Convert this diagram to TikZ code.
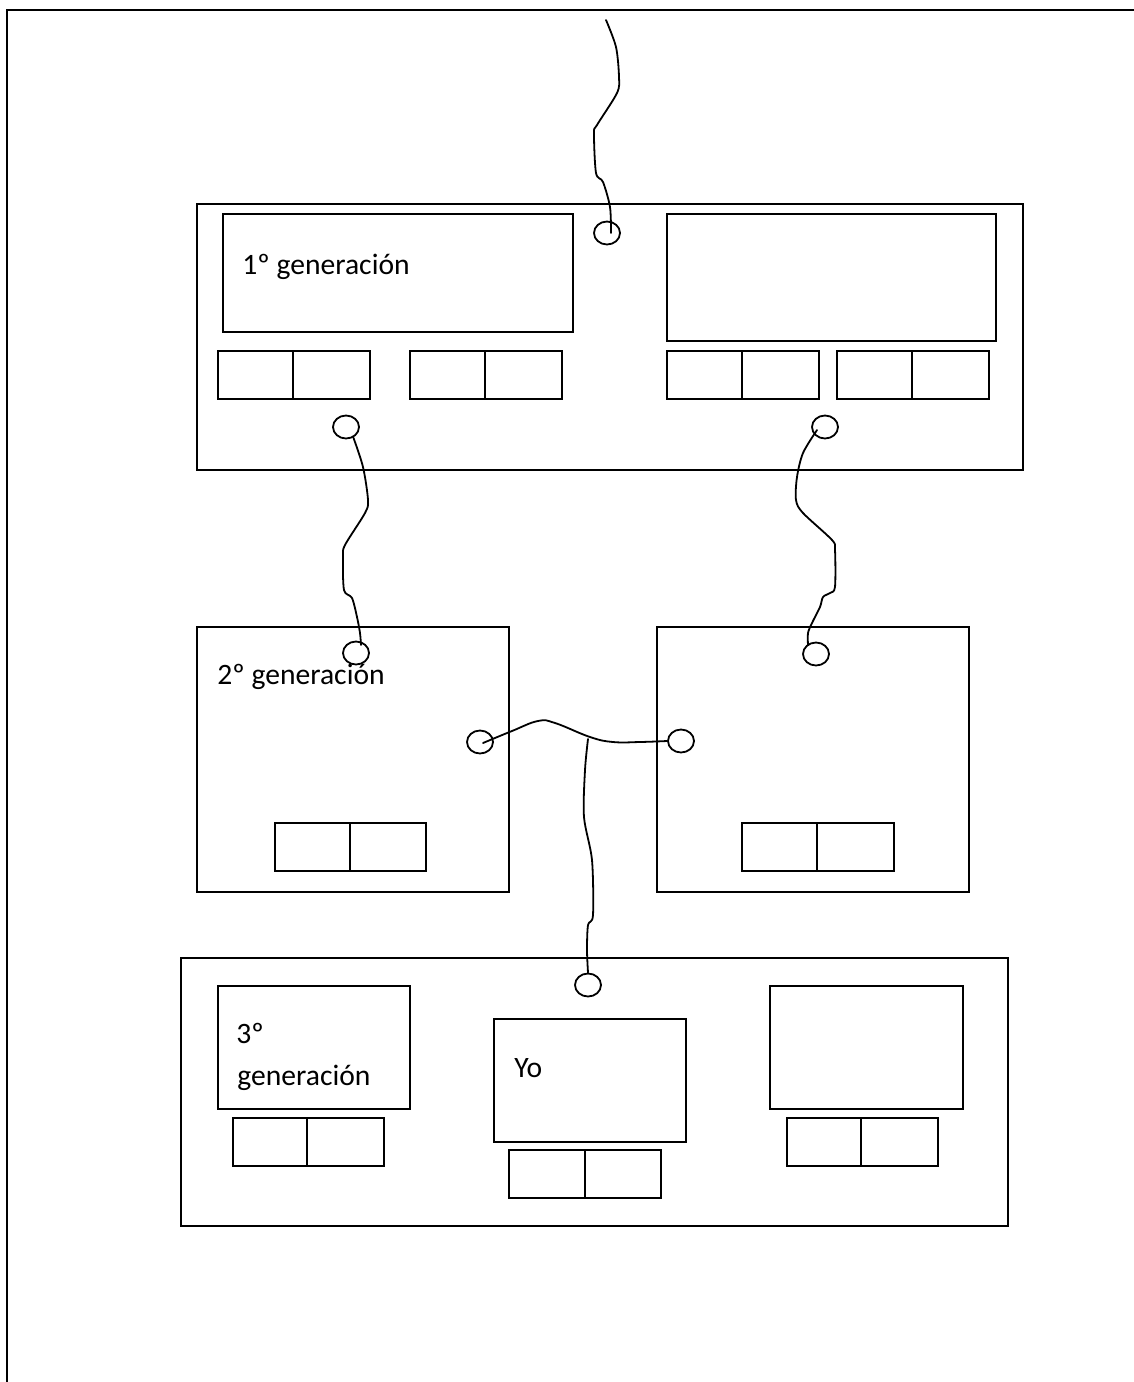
\documentclass[tikz,border=0pt]{standalone}
\usepackage{fontspec}
\setmainfont{Carlito}
\usetikzlibrary{fit,shapes.geometric}
\newcommand\lblfont{\fontsize{14.8}{20}\selectfont}
\tikzset{
  frame/.style={draw, line width=1pt, inner sep=0pt},
  port/.style={draw, ellipse, line width=0.9pt, minimum width=13pt, minimum height=11.5pt, inner sep=0pt},
  wire/.style={line width=0.9pt, line cap=round, line join=round},
  lbl/.style={anchor=base west, inner sep=0pt, font=\lblfont}
}
% rectangle from (x1,y1) to (x2,y2)
\newcommand\myrect[5]{\node[frame, fit={(#2,#3) (#4,#5)}] (#1) {};}
% double box: name, x1, y1, xdiv, x2, y2
\newcommand\mypair[6]{\myrect{#1a}{#2}{#3}{#4}{#6}\myrect{#1b}{#4}{#3}{#5}{#6}}
\begin{document}
\begin{tikzpicture}[x=0.5pt,y=-0.5pt]
\useasboundingbox (0,0) rectangle (1134,1382);
% page frame
\draw[line width=1.2pt] (1134,10) -- (7,10) -- (7,1382);

% ---------- 1st generation ----------
\myrect{gen1}{197}{204}{1023}{470}
\myrect{g1L}{223}{214}{573}{332}
\myrect{g1R}{667}{214}{996}{341}
\mypair{p1}{218}{351}{293}{370}{399}
\mypair{p2}{410}{351}{485}{562}{399}
\mypair{p3}{667}{351}{742}{819}{399}
\mypair{p4}{837}{351}{912}{989}{399}
\node[lbl] (t1) at (242,274) {1º generación};
\node[port] (c0) at (607,233) {};
\node[port] (c1) at (346,427) {};
\node[port] (c2) at (825,427) {};

% ---------- 2nd generation ----------
\myrect{gen2L}{197}{627}{509}{892}
\myrect{gen2R}{657}{627}{969}{892}
\mypair{p5}{275}{823}{350}{426}{871}
\mypair{p6}{742}{823}{817}{894}{871}
\node[lbl] (t2) at (217,684) {2º generación};
\node[port] (c3) at (356,653) {};
\node[port] (c4) at (816,654) {};
\node[port] (c5) at (480,742) {};
\node[port] (c6) at (681,741) {};

% ---------- 3rd generation ----------
\myrect{gen3}{181}{958}{1008}{1226}
\myrect{g3L}{218}{986}{410}{1109}
\myrect{g3M}{494}{1019}{686}{1142}
\myrect{g3R}{770}{986}{963}{1109}
\mypair{p7}{233}{1118}{307}{384}{1166}
\mypair{p8}{509}{1150}{585}{661}{1198}
\mypair{p9}{787}{1118}{861}{938}{1166}
\node[lbl] (t3a) at (236,1043) {3º};
\node[lbl] (t3b) at (237,1085) {generación};
\node[lbl] (t4) at (514,1077) {Yo};
\node[port] (c7) at (588,985) {};

% ---------- wires ----------
\coordinate (w0top) at (606,20);
\coordinate (c0in) at ([shift={(4,0)}]c0.center);
\coordinate (c2in) at ([shift={(-8,3)}]c2.center);
\coordinate (c3in) at ([shift={(5,-8)}]c3.center);
\coordinate (c4in) at ([shift={(-8,-9)}]c4.center);
\coordinate (c5in) at ([shift={(3,1)}]c5.center);
\coordinate (j) at (588,739);

\draw[wire] plot[smooth, tension=0.5] coordinates {(c0in) (610,207) (603,182) (596,173) (594,133) (597,125) (617,93) (619,77) (616,47) (w0top)};
\draw[wire] plot[smooth, tension=0.5] coordinates {(c1.-55) (363,467) (368,500) (365,513) (345,545) (343,557) (344,590) (352,598) (357,617) (360,633) (c3in)};
\draw[wire] plot[smooth, tension=0.5] coordinates {(c2in) (803,453) (797,477) (796,500) (803,513) (832,540) (835,550) (835,587) (830,593) (823,597) (820,607) (812,623) (808,633) (c4in)};
\draw[wire] plot[smooth, tension=0.7] coordinates {(c5in) (512,731) (538,721) (555,723) (590,737) (613,742) (640,742) (c6.west)};
\draw[wire] plot[smooth, tension=0.5] coordinates {(j) (585,770) (584,817) (592,860) (593,915) (588,925) (587,950) (c7.north)};
\end{tikzpicture}
\end{document}
